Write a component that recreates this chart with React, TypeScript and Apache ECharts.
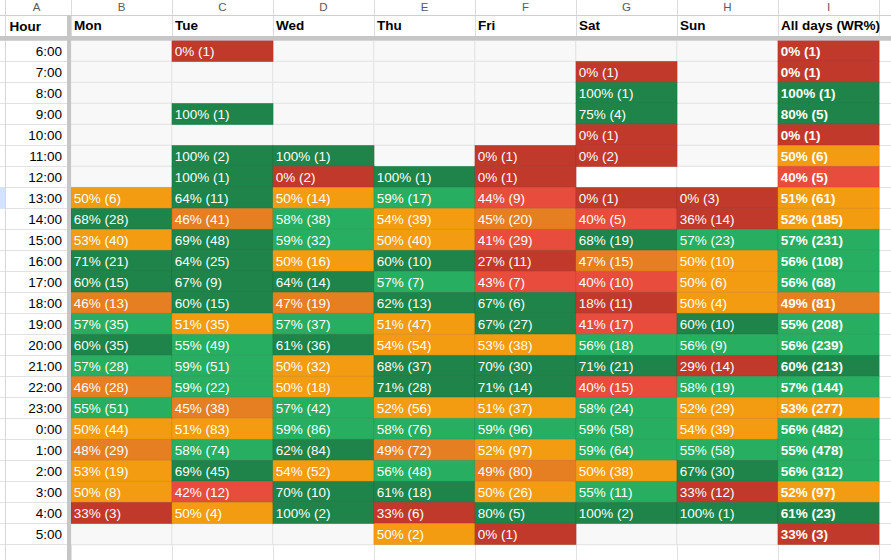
import React, { useEffect, useRef } from "react";
import * as echarts from "echarts";

// ---- data ----
const hours = [
  "6:00", "7:00", "8:00", "9:00", "10:00", "11:00", "12:00", "13:00", "14:00", "15:00", "16:00", "17:00",
  "18:00", "19:00", "20:00", "21:00", "22:00", "23:00", "0:00", "1:00", "2:00", "3:00", "4:00", "5:00",
];
const days = ["Mon", "Tue", "Wed", "Thu", "Fri", "Sat", "Sun", "All days (WR%)"];
const colLetters = ["B", "C", "D", "E", "F", "G", "H", "I"];

const _ = null;
const monWR = [_, _, _, _, _, _, _, 50, 68, 53, 71, 60, 46, 57, 60, 57, 46, 55, 50, 48, 53, 50, 33, _];
const monN = [_, _, _, _, _, _, _, 6, 28, 40, 21, 15, 13, 35, 35, 28, 28, 51, 44, 29, 19, 8, 3, _];
const tueWR = [0, _, _, 100, _, 100, 100, 64, 46, 69, 64, 67, 60, 51, 55, 59, 59, 45, 51, 58, 69, 42, 50, _];
const tueN = [1, _, _, 1, _, 2, 1, 11, 41, 48, 25, 9, 15, 35, 49, 51, 22, 38, 83, 74, 45, 12, 4, _];
const wedWR = [_, _, _, _, _, 100, 0, 50, 58, 59, 50, 64, 47, 57, 61, 50, 50, 57, 59, 62, 54, 70, 100, _];
const wedN = [_, _, _, _, _, 1, 2, 14, 38, 32, 16, 14, 19, 37, 36, 32, 18, 42, 86, 84, 52, 10, 2, _];
const thuWR = [_, _, _, _, _, _, 100, 59, 54, 50, 60, 57, 62, 51, 54, 68, 71, 52, 58, 49, 56, 61, 33, 50];
const thuN = [_, _, _, _, _, _, 1, 17, 39, 40, 10, 7, 13, 47, 54, 37, 28, 56, 76, 72, 48, 18, 6, 2];
const friWR = [_, _, _, _, _, 0, 0, 44, 45, 41, 27, 43, 67, 67, 53, 70, 71, 51, 59, 52, 49, 50, 80, 0];
const friN = [_, _, _, _, _, 1, 1, 9, 20, 29, 11, 7, 6, 27, 38, 30, 14, 37, 96, 97, 80, 26, 5, 1];
const satWR = [_, 0, 100, 75, 0, 0, _, 0, 40, 68, 47, 40, 18, 41, 56, 71, 40, 58, 59, 59, 50, 55, 100, _];
const satN = [_, 1, 1, 4, 1, 2, _, 1, 5, 19, 15, 10, 11, 17, 18, 21, 15, 24, 58, 64, 38, 11, 2, _];
const sunWR = [_, _, _, _, _, _, _, 0, 36, 57, 50, 50, 50, 60, 56, 29, 58, 52, 54, 55, 67, 33, 100, _];
const sunN = [_, _, _, _, _, _, _, 3, 14, 23, 10, 6, 4, 10, 9, 14, 19, 29, 39, 58, 30, 12, 1, _];
const allWR = [0, 0, 100, 80, 0, 50, 40, 51, 52, 57, 56, 56, 49, 55, 56, 60, 57, 53, 56, 55, 56, 52, 61, 33];
const allN = [1, 1, 1, 5, 1, 6, 5, 61, 185, 231, 108, 68, 81, 208, 239, 213, 144, 277, 482, 478, 312, 97, 23, 3];

// blank cells that are white instead of grey
const whiteCells = [["Sat", "12:00"], ["Sun", "12:00"]];
const selectedRow = "13:00";

// ---- layout / style ----
const W = 891;
const H = 560;
const GL = 71;
const GR = 879;
const GT = 40.5;
const ROWH = 21;
const FONT = "'Liberation Sans', Arial, sans-serif";
const FS = 13.5;
const GRID = "#e2e2e2";

export default function App() {
  const ref = useRef<HTMLDivElement>(null);

  useEffect(() => {
    const chart = echarts.init(ref.current as HTMLDivElement, null, { renderer: "svg", width: W, height: H });
    const rates = [monWR, tueWR, wedWR, thuWR, friWR, satWR, sunWR, allWR];
    const counts = [monN, tueN, wedN, thuN, friN, satN, sunN, allN];
    const isWhite = (d: string, h: string) => whiteCells.some((c) => c[0] === d && c[1] === h);

    const dataCells: any[] = [];
    const blankCells: any[] = [];
    rates.forEach((col, x) =>
      col.forEach((r, y) => {
        if (r === null) {
          blankCells.push({ value: [x, y, isWhite(days[x], hours[y]) ? 1 : 0] });
        } else {
          dataCells.push({
            value: [x, y, r, counts[x][y]],
            label: { fontWeight: x === days.length - 1 ? "bold" : "normal" },
          });
        }
      })
    );

    const nRows = hours.length;
    const gridBottom = GT + nRows * ROWH;
    const graphics: any[] = [];
    for (let i = 0; i <= nRows; i++) {
      const y = GT + i * ROWH;
      graphics.push({ type: "line", z: 0, shape: { x1: 0, y1: y, x2: W, y2: y }, style: { stroke: GRID, lineWidth: 1 } });
    }
    const selIdx = hours.indexOf(selectedRow);
    graphics.push(
      { type: "rect", z: 1, shape: { x: 0, y: GT + selIdx * ROWH, width: 5.5, height: ROWH }, style: { fill: "#d3e3fd" } },
      { type: "line", z: 5, shape: { x1: 0, y1: 15.5, x2: W, y2: 15.5 }, style: { stroke: "#cfcfcf", lineWidth: 1 } },
      { type: "line", z: 5, shape: { x1: 5.5, y1: 0, x2: 5.5, y2: H }, style: { stroke: "#d6d6d6", lineWidth: 1 } },
      { type: "rect", z: 10, shape: { x: 67, y: 15.5, width: 4, height: H }, style: { fill: "#c6c6c6" } },
      { type: "rect", z: 10, shape: { x: 0, y: 36, width: W, height: 4.5 }, style: { fill: "#c6c6c6" } },
      {
        type: "text", z: 11, x: 36.5, y: 6.5,
        style: { text: "A", fill: "#5a5a5a", font: `11.5px ${FONT}`, align: "center", verticalAlign: "middle" },
      },
      {
        type: "text", z: 11, x: 9.5, y: 26,
        style: { text: "Hour", fill: "#000", font: `bold ${FS}px ${FONT}`, align: "left", verticalAlign: "middle" },
      }
    );

    chart.setOption({
      animation: false,
      backgroundColor: "#ffffff",
      textStyle: { fontFamily: FONT },
      grid: { left: GL, right: W - GR, top: GT, bottom: H - gridBottom, containLabel: false },
      xAxis: [
        {
          type: "category",
          data: days,
          position: "bottom",
          axisLabel: { show: false },
          axisTick: { show: false },
          axisLine: { show: false },
          splitLine: { show: true, interval: 0, lineStyle: { color: GRID, width: 1 } },
        },
        {
          type: "category",
          data: [...days, ""],
          boundaryGap: false,
          position: "top",
          offset: 0,
          axisLine: { show: false },
          axisTick: { show: true, interval: 0, length: GT, lineStyle: { color: "#dcdcdc", width: 1 } },
          axisLabel: {
            show: true,
            interval: 0,
            align: "left",
            verticalAlign: "middle",
            margin: 15,
            padding: [0, 0, 0, 3],
            color: "#000",
            fontWeight: "bold",
            fontSize: FS,
            fontFamily: FONT,
          },
          splitLine: { show: false },
        },
        {
          type: "category",
          data: colLetters,
          position: "top",
          offset: GT - 6.5,
          axisLine: { show: false },
          axisTick: { show: false },
          axisLabel: { show: true, interval: 0, margin: 0, verticalAlign: "middle", color: "#5a5a5a", fontSize: 11.5, fontFamily: FONT },
          splitLine: { show: false },
        },
        {
          type: "category",
          data: [...days, ""],
          boundaryGap: false,
          position: "bottom",
          axisLine: { show: false },
          axisTick: { show: true, interval: 0, length: H - gridBottom, lineStyle: { color: GRID, width: 1 } },
          axisLabel: { show: false },
          splitLine: { show: false },
        },
      ],
      yAxis: {
        type: "category",
        data: hours,
        inverse: true,
        axisLine: { show: false },
        axisTick: { show: false },
        axisLabel: { show: true, interval: 0, margin: 9, color: "#000", fontSize: FS, fontFamily: FONT },
        splitLine: { show: true, interval: 0, lineStyle: { color: GRID, width: 1 } },
      },
      visualMap: [
        {
          type: "piecewise",
          show: false,
          seriesIndex: 0,
          dimension: 2,
          pieces: [
            { lt: 0.5, color: "#f8f8f8" },
            { gte: 0.5, color: "#ffffff" },
          ],
        },
        {
          type: "piecewise",
          show: false,
          seriesIndex: 1,
          dimension: 2,
          pieces: [
            { lt: 40, color: "#c0392b" },
            { gte: 40, lt: 45, color: "#e74c3c" },
            { gte: 45, lt: 50, color: "#e67e22" },
            { gte: 50, lt: 55, color: "#f39c12" },
            { gte: 55, lt: 60, color: "#27ae60" },
            { gte: 60, color: "#1e8449" },
          ],
        },
      ],
      graphic: graphics,
      series: [
        {
          type: "heatmap",
          xAxisIndex: 0,
          yAxisIndex: 0,
          data: blankCells,
          silent: true,
          itemStyle: { borderColor: GRID, borderWidth: 1 },
          label: { show: false },
          emphasis: { disabled: true },
        },
        {
          type: "heatmap",
          xAxisIndex: 0,
          yAxisIndex: 0,
          data: dataCells,
          silent: true,
          itemStyle: { borderColor: "rgba(0,0,0,0.07)", borderWidth: 1 },
          label: {
            show: true,
            position: "insideLeft",
            distance: 3.5,
            color: "#ffffff",
            fontSize: FS,
            fontFamily: FONT,
            formatter: (p: any) => `${p.value[2]}% (${p.value[3]})`,
          },
          emphasis: { disabled: true },
        },
      ],
    });

    return () => chart.dispose();
  }, []);

  return (
    <div
      ref={ref}
      style={{ position: "fixed", left: 0, top: 0, width: W, height: H, background: "#fff" }}
    />
  );
}
